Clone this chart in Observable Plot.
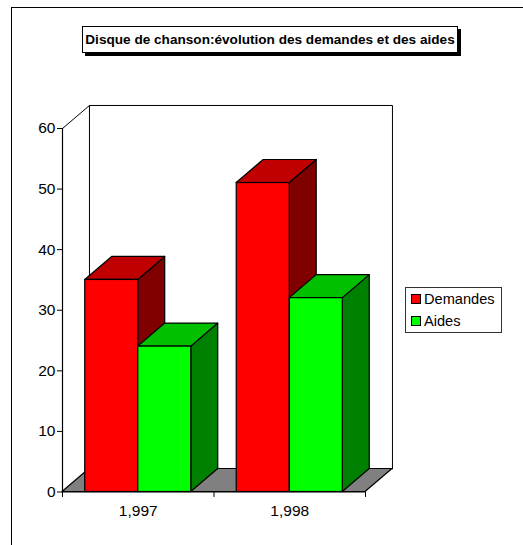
<!DOCTYPE html>
<html><head><meta charset="utf-8">
<script src="https://cdn.jsdelivr.net/npm/d3@7"></script>
<script src="https://cdn.jsdelivr.net/npm/@observablehq/plot@0.6"></script>
<style>
html,body{margin:0;padding:0;background:#fff;}
#wrap{position:relative;width:523px;height:545px;overflow:hidden;font-family:"Liberation Sans",Arial,sans-serif;color:#000;}
#frame{position:absolute;left:11px;top:7px;width:600px;height:600px;border:1px solid #000;box-sizing:border-box;}
#title{position:absolute;left:82px;top:26px;width:376px;height:27px;box-sizing:border-box;border:1px solid #000;background:#fff;box-shadow:3px 3px 0 #000;font-weight:bold;font-size:13.6px;line-height:25px;text-align:center;white-space:nowrap;}
#legend{position:absolute;left:405px;top:287px;width:97px;height:46px;box-sizing:border-box;border:1px solid #333;background:#fff;font-size:14.6px;}
#legend div{position:absolute;left:5px;display:flex;align-items:center;height:16px;}
#legend i{display:inline-block;box-sizing:border-box;width:10px;height:10px;border:1px solid #000;margin-right:3px;}
svg{position:absolute;left:0;top:0;}
</style></head><body>
<div id="wrap"><div id="frame"></div><div id="plot"></div><div id="title"></div><div id="legend"></div></div>
<script>
const chartTitle = "Disque de chanson:évolution des demandes et des aides";
const years = ["1,997", "1,998"];
const seriesNames = ["Demandes", "Aides"];
const demandes = [35, 51];
const aides = [24, 32];
const yTicks = [0, 10, 20, 30, 40, 50, 60];
const seriesColors = {front: ["#ff0000", "#00ff00"], top: ["#c00000", "#00c000"], side: ["#800000", "#008000"]};
const depthX = 0.178, depthY = 3.8;
const barInset = 0.15;

const bars = [];
years.forEach((yr, g) => {
  [demandes, aides].forEach((vals, s) => {
    const w = (1 - 2 * barInset) / 2;
    const a = g + barInset + s * w;
    bars.push({g, s, a, b: a + w, v: vals[g]});
  });
});

const style = {stroke: "#000", strokeWidth: 1.2};
const marks = [
  Plot.line([[depthX,depthY],[depthX,60+depthY],[2+depthX,60+depthY],[2+depthX,depthY]], {x: d=>d[0], y: d=>d[1], stroke:"#000", strokeWidth:1}),
  Plot.line([[0,60],[depthX,60+depthY]], {x:d=>d[0], y:d=>d[1], stroke:"#000", strokeWidth:1}),
  Plot.areaX([{y:0,x1:0,x2:2},{y:depthY,x1:depthX,x2:2+depthX}], {y:"y",x1:"x1",x2:"x2",fill:"#808080",...style}),
];
for (const d of bars) {
  const i = d.s;
  marks.push(
    Plot.areaY([{x:d.b,y1:0,y2:d.v},{x:d.b+depthX,y1:depthY,y2:d.v+depthY}], {x:"x",y1:"y1",y2:"y2",fill:seriesColors.side[i],...style}),
    Plot.areaX([{y:d.v,x1:d.a,x2:d.b},{y:d.v+depthY,x1:d.a+depthX,x2:d.b+depthX}], {y:"y",x1:"x1",x2:"x2",fill:seriesColors.top[i],...style}),
    Plot.rect([d], {x1:"a",x2:"b",y1:0,y2:"v",fill:seriesColors.front[i],...style})
  );
}
marks.push(
  Plot.ruleX([0], {y1:0,y2:60,stroke:"#000",strokeWidth:1.2}),
  Plot.ruleY([0], {x1:0,x2:2,stroke:"#000",strokeWidth:1.2}),
  Plot.axisY({ticks:yTicks, tickSize:5, tickPadding:2, fontSize:15.5, fontFamily:"Liberation Sans", tickFormat:d=>d, stroke:"#000", color:"#000", label:null, anchor:"left"}),
  Plot.ruleX([0,1,2], {y1:0, y2:-0.9, stroke:"#000", strokeWidth:1}),
  Plot.text(years, {x:(d,i)=>i+0.5, y:0, dy:19, fontSize:15.5, fontFamily:"Liberation Sans", fill:"#000"})
);
const chart = Plot.plot({
  width:523, height:545, marginLeft:62, marginRight:158, marginTop:128, marginBottom:53.5,
  style:{background:"transparent"},
  x:{type:"linear",domain:[0,2],axis:null},
  y:{type:"linear",domain:[0,60],axis:null},
  marks
});
document.getElementById("plot").append(chart);
document.getElementById("title").textContent = chartTitle;
const lg = document.getElementById("legend");
seriesNames.forEach((n,i)=>{
  const r=document.createElement("div"); r.style.top=(i===0?3:25)+"px";
  const sw=document.createElement("i"); sw.style.background=seriesColors.front[i];
  r.append(sw,n); lg.append(r);
});
</script></body></html>
